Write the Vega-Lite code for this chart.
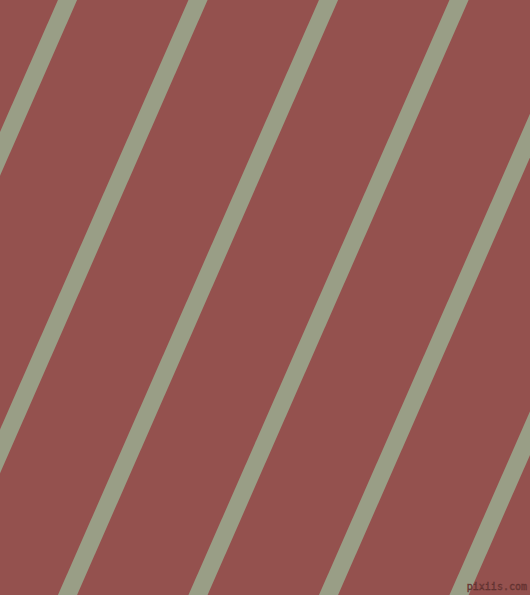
{
  "$schema": "https://vega.github.io/schema/vega-lite/v6.json",
  "autosize": {"type": "fit", "contains": "padding"},
  "width": 530,
  "height": 595,
  "padding": 0,
  "background": "#94514E",
  "config": {"view": {"stroke": null}},
  "datasets": {
    "stripes": [
      {"stripe": 1, "x": 67.5, "y": 0}, {"stripe": 1, "x": -193.5, "y": 595},
      {"stripe": 2, "x": 198, "y": 0}, {"stripe": 2, "x": -63, "y": 595},
      {"stripe": 3, "x": 328.5, "y": 0}, {"stripe": 3, "x": 67.5, "y": 595},
      {"stripe": 4, "x": 459, "y": 0}, {"stripe": 4, "x": 198, "y": 595},
      {"stripe": 5, "x": 589.5, "y": 0}, {"stripe": 5, "x": 328.5, "y": 595},
      {"stripe": 6, "x": 720, "y": 0}, {"stripe": 6, "x": 459, "y": 595}
    ],
    "mark": [
      {"label": "pixiis.com", "x": 527, "y": 587}
    ]
  },
  "layer": [
    {
      "data": {"name": "stripes"},
      "mark": {"type": "line", "clip": true, "strokeWidth": 17.5, "strokeCap": "square", "color": "#999E86"},
      "encoding": {
        "x": {"field": "x", "type": "quantitative", "scale": {"domain": [0, 530], "nice": false, "zero": false}, "axis": null},
        "y": {"field": "y", "type": "quantitative", "scale": {"domain": [595, 0], "nice": false, "zero": false}, "axis": null},
        "detail": {"field": "stripe", "type": "nominal"}
      }
    },
    {
      "data": {"name": "mark"},
      "mark": {"type": "text", "align": "right", "baseline": "middle", "font": "DejaVu Sans Mono", "fontSize": 10, "color": "#7A3F3D", "stroke": "#5A2E2C", "strokeWidth": 0.4},
      "encoding": {
        "x": {"field": "x", "type": "quantitative"},
        "y": {"field": "y", "type": "quantitative"},
        "text": {"field": "label"}
      }
    }
  ]
}
